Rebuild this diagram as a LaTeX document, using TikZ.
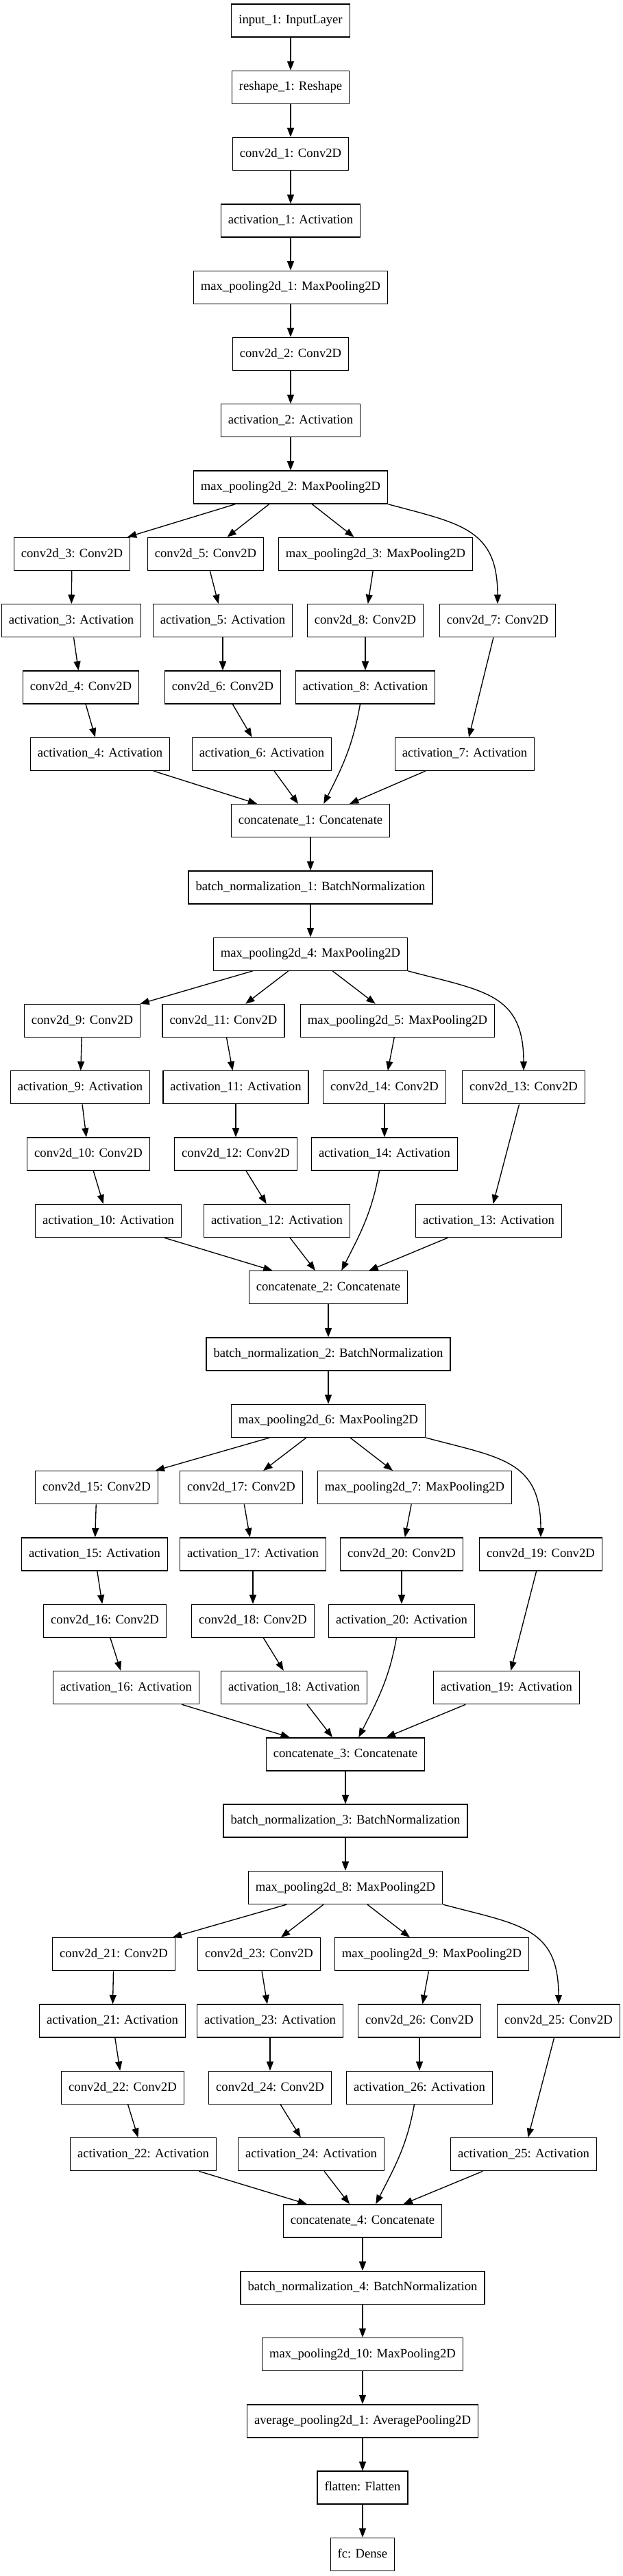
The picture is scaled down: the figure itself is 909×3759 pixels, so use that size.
\documentclass[tikz,border=0pt]{standalone}
\usepackage{fontspec}
\setmainfont{Liberation Serif}
\usetikzlibrary{arrows.meta}

\begin{document}
\begin{tikzpicture}[x=0.75pt, y=0.75pt, font=\fontsize{14}{16}\selectfont,
  lay/.style={draw=black, line width=1pt, inner xsep=7.9pt, inner ysep=0pt, minimum height=36pt, text height=10pt, text depth=3pt},
  arr/.style={-{Triangle[length=10pt, width=7.5pt]}, line width=1pt}]
\useasboundingbox (0,0) rectangle (909,-3759);
% stem
\node[lay] (in1) at (424,-30) {input\_1: InputLayer};
\node[lay] (rs1) at (424,-127.3) {reshape\_1: Reshape};
\node[lay] (c1) at (424,-224.6) {conv2d\_1: Conv2D};
\node[lay] (a1) at (424,-321.9) {activation\_1: Activation};
\node[lay] (mp1) at (424,-419.2) {max\_pooling2d\_1: MaxPooling2D};
\node[lay] (c2) at (424,-516.5) {conv2d\_2: Conv2D};
\node[lay] (a2) at (424,-613.8) {activation\_2: Activation};
\node[lay] (mp2) at (424,-711.1) {max\_pooling2d\_2: MaxPooling2D};
% block 1
\node[lay] (c3) at (105,-808.4) {conv2d\_3: Conv2D};
\node[lay] (c5) at (300,-808.4) {conv2d\_5: Conv2D};
\node[lay] (mp3) at (548,-808.4) {max\_pooling2d\_3: MaxPooling2D};
\node[lay] (a3) at (104,-905.7) {activation\_3: Activation};
\node[lay] (a5) at (325,-905.7) {activation\_5: Activation};
\node[lay] (c8) at (533,-905.7) {conv2d\_8: Conv2D};
\node[lay] (c7) at (726,-905.7) {conv2d\_7: Conv2D};
\node[lay] (c4) at (118,-1003) {conv2d\_4: Conv2D};
\node[lay] (c6) at (325,-1003) {conv2d\_6: Conv2D};
\node[lay] (a8) at (533,-1003) {activation\_8: Activation};
\node[lay] (a4) at (146,-1100.3) {activation\_4: Activation};
\node[lay] (a6) at (382,-1100.3) {activation\_6: Activation};
\node[lay] (a7) at (678,-1100.3) {activation\_7: Activation};
\node[lay] (cat1) at (453,-1197.6) {concatenate\_1: Concatenate};
\node[lay] (bn1) at (453,-1294.9) {batch\_normalization\_1: BatchNormalization};
\node[lay] (mp4) at (453,-1392.2) {max\_pooling2d\_4: MaxPooling2D};
% block 2
\node[lay] (c9) at (120,-1489.5) {conv2d\_9: Conv2D};
\node[lay] (c11) at (326,-1489.5) {conv2d\_11: Conv2D};
\node[lay] (mp5) at (580,-1489.5) {max\_pooling2d\_5: MaxPooling2D};
\node[lay] (a9) at (117,-1586.8) {activation\_9: Activation};
\node[lay] (a11) at (344,-1586.8) {activation\_11: Activation};
\node[lay] (c14) at (561,-1586.8) {conv2d\_14: Conv2D};
\node[lay] (c13) at (764,-1586.8) {conv2d\_13: Conv2D};
\node[lay] (c10) at (129,-1684.1) {conv2d\_10: Conv2D};
\node[lay] (c12) at (344,-1684.1) {conv2d\_12: Conv2D};
\node[lay] (a14) at (561,-1684.1) {activation\_14: Activation};
\node[lay] (a10) at (158,-1781.4) {activation\_10: Activation};
\node[lay] (a12) at (404,-1781.4) {activation\_12: Activation};
\node[lay] (a13) at (713,-1781.4) {activation\_13: Activation};
\node[lay] (cat2) at (479,-1878.7) {concatenate\_2: Concatenate};
\node[lay] (bn2) at (479,-1976) {batch\_normalization\_2: BatchNormalization};
\node[lay] (mp6) at (479,-2073.3) {max\_pooling2d\_6: MaxPooling2D};
% block 3
\node[lay] (c15) at (141,-2170.6) {conv2d\_15: Conv2D};
\node[lay] (c17) at (352,-2170.6) {conv2d\_17: Conv2D};
\node[lay] (mp7) at (605,-2170.6) {max\_pooling2d\_7: MaxPooling2D};
\node[lay] (a15) at (138,-2267.9) {activation\_15: Activation};
\node[lay] (a17) at (369,-2267.9) {activation\_17: Activation};
\node[lay] (c20) at (586,-2267.9) {conv2d\_20: Conv2D};
\node[lay] (c19) at (789,-2267.9) {conv2d\_19: Conv2D};
\node[lay] (c16) at (153,-2365.2) {conv2d\_16: Conv2D};
\node[lay] (c18) at (369,-2365.2) {conv2d\_18: Conv2D};
\node[lay] (a20) at (586,-2365.2) {activation\_20: Activation};
\node[lay] (a16) at (184,-2462.5) {activation\_16: Activation};
\node[lay] (a18) at (429,-2462.5) {activation\_18: Activation};
\node[lay] (a19) at (739,-2462.5) {activation\_19: Activation};
\node[lay] (cat3) at (504,-2559.8) {concatenate\_3: Concatenate};
\node[lay] (bn3) at (504,-2657.1) {batch\_normalization\_3: BatchNormalization};
\node[lay] (mp8) at (504,-2754.4) {max\_pooling2d\_8: MaxPooling2D};
% block 4
\node[lay] (c21) at (166,-2851.7) {conv2d\_21: Conv2D};
\node[lay] (c23) at (378,-2851.7) {conv2d\_23: Conv2D};
\node[lay] (mp9) at (630,-2851.7) {max\_pooling2d\_9: MaxPooling2D};
\node[lay] (a21) at (164,-2949) {activation\_21: Activation};
\node[lay] (a23) at (394,-2949) {activation\_23: Activation};
\node[lay] (c26) at (612,-2949) {conv2d\_26: Conv2D};
\node[lay] (c25) at (815,-2949) {conv2d\_25: Conv2D};
\node[lay] (c22) at (179,-3046.3) {conv2d\_22: Conv2D};
\node[lay] (c24) at (394,-3046.3) {conv2d\_24: Conv2D};
\node[lay] (a26) at (612,-3046.3) {activation\_26: Activation};
\node[lay] (a22) at (209,-3143.6) {activation\_22: Activation};
\node[lay] (a24) at (454,-3143.6) {activation\_24: Activation};
\node[lay] (a25) at (764,-3143.6) {activation\_25: Activation};
\node[lay] (cat4) at (529,-3240.9) {concatenate\_4: Concatenate};
\node[lay] (bn4) at (529,-3338.2) {batch\_normalization\_4: BatchNormalization};
% head
\node[lay] (mp10) at (529,-3435.5) {max\_pooling2d\_10: MaxPooling2D};
\node[lay] (ap1) at (529,-3532.8) {average\_pooling2d\_1: AveragePooling2D};
\node[lay] (fl) at (529,-3630.1) {flatten: Flatten};
\node[lay] (fc) at (529,-3727.4) {fc: Dense};
% edges
\draw[arr] (in1) -- (rs1); \draw[arr] (rs1) -- (c1); \draw[arr] (c1) -- (a1); \draw[arr] (a1) -- (mp1);
\draw[arr] (mp1) -- (c2); \draw[arr] (c2) -- (a2); \draw[arr] (a2) -- (mp2);
\draw[arr] (mp2) -- (c3); \draw[arr] (mp2) -- (c5); \draw[arr] (mp2) -- (mp3);
\draw[arr] (mp2.south east) to[out=-15, in=90, looseness=1.3] (c7.north);
\draw[arr] (c3) -- (a3); \draw[arr] (a3) -- (c4); \draw[arr] (c4) -- (a4); \draw[arr] (a4) -- (cat1);
\draw[arr] (c5) -- (a5); \draw[arr] (a5) -- (c6); \draw[arr] (c6) -- (a6); \draw[arr] (a6) -- (cat1);
\draw[arr] (mp3) -- (c8); \draw[arr] (c8) -- (a8); \draw[arr] (a8.-107) to[out=-100, in=63] (cat1.52);
\draw[arr] (c7) -- (a7); \draw[arr] (a7) -- (cat1);
\draw[arr] (cat1) -- (bn1); \draw[arr] (bn1) -- (mp4);
\draw[arr] (mp4) -- (c9); \draw[arr] (mp4) -- (c11); \draw[arr] (mp4) -- (mp5);
\draw[arr] (mp4.south east) to[out=-15, in=90, looseness=1.3] (c13.north);
\draw[arr] (c9) -- (a9); \draw[arr] (a9) -- (c10); \draw[arr] (c10) -- (a10); \draw[arr] (a10) -- (cat2);
\draw[arr] (c11) -- (a11); \draw[arr] (a11) -- (c12); \draw[arr] (c12) -- (a12); \draw[arr] (a12) -- (cat2);
\draw[arr] (mp5) -- (c14); \draw[arr] (c14) -- (a14); \draw[arr] (a14.-107) to[out=-100, in=63] (cat2.52);
\draw[arr] (c13) -- (a13); \draw[arr] (a13) -- (cat2);
\draw[arr] (cat2) -- (bn2); \draw[arr] (bn2) -- (mp6);
\draw[arr] (mp6) -- (c15); \draw[arr] (mp6) -- (c17); \draw[arr] (mp6) -- (mp7);
\draw[arr] (mp6.south east) to[out=-15, in=90, looseness=1.3] (c19.north);
\draw[arr] (c15) -- (a15); \draw[arr] (a15) -- (c16); \draw[arr] (c16) -- (a16); \draw[arr] (a16) -- (cat3);
\draw[arr] (c17) -- (a17); \draw[arr] (a17) -- (c18); \draw[arr] (c18) -- (a18); \draw[arr] (a18) -- (cat3);
\draw[arr] (mp7) -- (c20); \draw[arr] (c20) -- (a20); \draw[arr] (a20.-107) to[out=-100, in=63] (cat3.52);
\draw[arr] (c19) -- (a19); \draw[arr] (a19) -- (cat3);
\draw[arr] (cat3) -- (bn3); \draw[arr] (bn3) -- (mp8);
\draw[arr] (mp8) -- (c21); \draw[arr] (mp8) -- (c23); \draw[arr] (mp8) -- (mp9);
\draw[arr] (mp8.south east) to[out=-15, in=90, looseness=1.3] (c25.north);
\draw[arr] (c21) -- (a21); \draw[arr] (a21) -- (c22); \draw[arr] (c22) -- (a22); \draw[arr] (a22) -- (cat4);
\draw[arr] (c23) -- (a23); \draw[arr] (a23) -- (c24); \draw[arr] (c24) -- (a24); \draw[arr] (a24) -- (cat4);
\draw[arr] (mp9) -- (c26); \draw[arr] (c26) -- (a26); \draw[arr] (a26.-107) to[out=-100, in=63] (cat4.52);
\draw[arr] (c25) -- (a25); \draw[arr] (a25) -- (cat4);
\draw[arr] (cat4) -- (bn4); \draw[arr] (bn4) -- (mp10); \draw[arr] (mp10) -- (ap1);
\draw[arr] (ap1) -- (fl); \draw[arr] (fl) -- (fc);
\end{tikzpicture}
\end{document}
